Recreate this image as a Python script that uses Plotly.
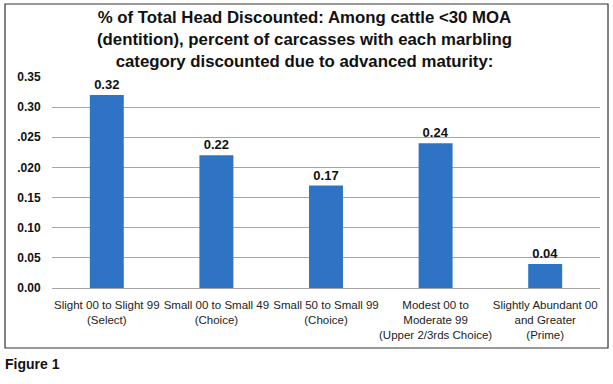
import plotly.graph_objects as go

categories = [
    "Slight 00 to Slight 99<br>(Select)",
    "Small 00 to Small 49<br>(Choice)",
    "Small 50 to Small 99<br>(Choice)",
    "Modest 00 to<br>Moderate 99<br>(Upper 2/3rds Choice)",
    "Slightly Abundant 00<br>and Greater<br>(Prime)",
]
values = [0.32, 0.22, 0.17, 0.24, 0.04]
value_labels = ["0.32", "0.22", "0.17", "0.24", "0.04"]
tick_vals = [0.0, 0.05, 0.10, 0.15, 0.20, 0.25, 0.30, 0.35]
tick_text = ["0.00", "0.05", "0.10", "0.15", ".020", ".025", "0.30", "0.35"]
title_text = ("% of Total Head Discounted: Among cattle <30 MOA<br>"
              "(dentition), percent of carcasses with each marbling<br>"
              "category discounted due to advanced maturity:")

W, H = 613, 384
L, R, T, B = 52, 13, 77, 96
pw, ph = W - L - R, H - T - B

def px(x):
    return (x - L) / pw

def py(y):
    return (H - B - y) / ph

fig = go.Figure(go.Bar(
    x=list(range(len(categories))),
    y=values,
    marker=dict(color="#2F74C4", line=dict(width=0)),
    text=value_labels,
    texttemplate="<b>%{text}</b>",
    textposition="outside",
    textfont=dict(family="Liberation Sans, Arial", size=13, color="#111111"),
    cliponaxis=False,
    width=0.31,
))

fig.update_layout(
    width=W, height=H,
    margin=dict(l=L, r=R, t=T, b=B, autoexpand=False),
    paper_bgcolor="white", plot_bgcolor="white",
    showlegend=False,
    xaxis=dict(
        tickmode="array", tickvals=list(range(len(categories))), ticktext=categories,
        range=[-0.5, 4.5], showgrid=False, zeroline=False, showline=False,
        ticks="outside", ticklen=6, tickcolor="rgba(0,0,0,0)", tickangle=0, automargin=False,
        tickfont=dict(family="Liberation Sans, Arial", size=11.5, color="#222222"),
    ),
    yaxis=dict(
        range=[0, 0.35], tickmode="array", tickvals=tick_vals,
        ticktext=["<b>" + t + "</b>" for t in tick_text],
        showgrid=True, gridcolor="#A6A6A6", gridwidth=1.2, automargin=False,
        zeroline=True, zerolinecolor="#A6A6A6", zerolinewidth=1.2,
        showline=False, ticks="outside", ticklen=8, tickcolor="rgba(0,0,0,0)",
        tickfont=dict(family="Liberation Sans, Arial", size=12, color="#111111"),
    ),
    shapes=[dict(
        type="rect", xref="paper", yref="paper",
        x0=px(5), x1=px(608), y0=py(348), y1=py(4),
        line=dict(color="#333333", width=1.2), fillcolor="rgba(0,0,0,0)", layer="below",
    )],
    annotations=[
        dict(
            text="<b>" + title_text + "</b>", xref="paper", yref="paper",
            x=px(304), y=py(6), xanchor="center", yanchor="top", showarrow=False,
            align="center",
            font=dict(family="Liberation Sans, Arial", size=16.8, color="#111111"),
        ),
        dict(
            text="<b>Figure 1</b>", xref="paper", yref="paper",
            x=px(3), y=py(364), xanchor="left", yanchor="middle", showarrow=False,
            font=dict(family="Liberation Sans, Arial", size=14, color="#111111"),
        ),
    ],
)

fig.write_html("out.html", config={"displayModeBar": False},
               post_script="document.body.style.margin='0px';")
